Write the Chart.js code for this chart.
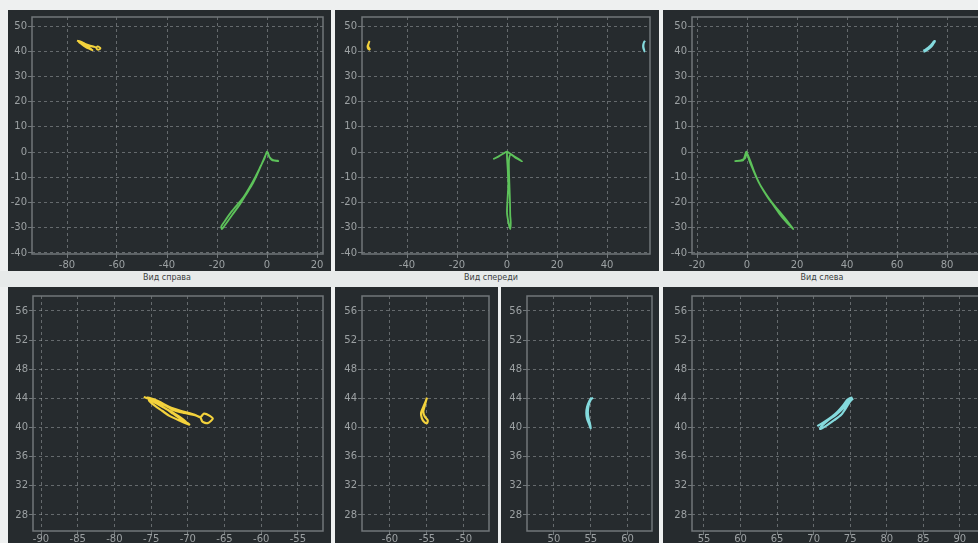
<!DOCTYPE html>
<html>
<head>
<meta charset="utf-8">
<script src="https://cdn.jsdelivr.net/npm/chart.js@4/dist/chart.umd.min.js"></script>
<style>
  html, body { margin: 0; padding: 0; }
  body { width: 978px; height: 543px; overflow: hidden; position: relative; background: #eef0f0; font-family: "DejaVu Sans", sans-serif; }
  .panel { position: absolute; background: #262b2e; overflow: hidden; }
  .strip { position: absolute; left: 0; top: 271px; width: 978px; height: 16px; background: #e7eaea; }
  .caption { position: absolute; top: 273px; font-size: 8px; color: #3c3f41; transform: translateX(-50%); white-space: nowrap; }
</style>
</head>
<body>
<div class="strip"></div>
<div class="caption" style="left:167px">Вид справа</div>
<div class="caption" style="left:491px">Вид спереди</div>
<div class="caption" style="left:822px">Вид слева</div>

<div class="panel" style="left:8px;top:10px;width:323px;height:261px"><canvas id="c1"></canvas></div>
<div class="panel" style="left:335px;top:10px;width:324px;height:261px"><canvas id="c2"></canvas></div>
<div class="panel" style="left:663px;top:10px;width:330px;height:261px"><canvas id="c3"></canvas></div>
<div class="panel" style="left:8px;top:287px;width:323px;height:270px"><canvas id="c4"></canvas></div>
<div class="panel" style="left:335px;top:287px;width:163px;height:270px"><canvas id="c5"></canvas></div>
<div class="panel" style="left:501px;top:287px;width:158px;height:270px"><canvas id="c6"></canvas></div>
<div class="panel" style="left:663px;top:287px;width:330px;height:270px"><canvas id="c7"></canvas></div>

<script>
// Arm trace, side view from the right (horizontal vs vertical)
const rightArmX = [4.8, 3, 1.8, 1, 0.2, -0.5, -2, -4, -6, -8.5, -11, -14, -16.5, -18, -18.3, -17, -14.5, -12, -9.5, -7, -4.5, -2.5, -1, 0, 1, 2.5, 4.5];
const rightArmY = [-3.6, -3.4, -3, -2, 0, -1, -4.5, -9, -13, -17, -21, -25, -28.5, -30.5, -29.5, -27.5, -24, -21, -18, -14, -9.5, -5.5, -2.5, 0.2, -2, -3.2, -3.4];

// Left hand trace, side view from the right
const rightHandX = [-76, -75, -74, -73, -72, -71, -70, -69.8, -71, -72.5, -73.5, -74.5, -75.3, -74.5, -73, -72, -70.5, -69, -68.3, -67.8, -67, -66.6, -67.3, -68, -68.3, -69.5, -71, -72.5, -74, -75.5, -74.6, -73.2, -71.8, -70.6, -70.2];
const rightHandY = [44.2, 43.8, 43.2, 42.6, 41.9, 41.2, 40.6, 40.4, 40.9, 41.6, 42.3, 43, 43.7, 43.6, 43, 42.4, 42, 41.7, 41.4, 41.9, 41.6, 41.2, 40.6, 40.8, 41.4, 41.9, 42.3, 42.8, 43.6, 44.1, 43.5, 42.7, 41.9, 41.1, 40.7];

// Arm trace, front view
const frontArmX = [-5.5, -3, -1, 0, 1.5, 3.5, 6, 3.5, 1.5, 0.8, 0.8, 1, 1.2, 1.3, 1.5, 1.3, 0.6, 0, 0.2, 0.5, 0.3, 0, 0];
const frontArmY = [-2.8, -1.5, -0.3, 0.2, -0.8, -2, -3.6, -2.3, -1, -3, -8, -14, -20, -25, -28, -30.5, -28, -24, -19, -13, -7, -2, 0.2];

// Hand traces, front view
const frontHandAX = [-55, -55.2, -55.5, -55.8, -55.7, -55.4, -55, -54.9, -55.3, -55.5, -55.3, -55.1, -55];
const frontHandAY = [44.1, 43.5, 42.8, 42, 41.3, 40.8, 40.6, 41, 41.5, 42.2, 43, 43.8, 44.1];
const frontHandBX = [55.1, 54.8, 54.5, 54.4, 54.5, 54.8, 55, 54.9, 54.7, 54.6, 54.7, 55, 55.3];
const frontHandBY = [44.1, 43.6, 42.8, 42, 41.2, 40.4, 39.9, 40.5, 41.3, 42.1, 43, 43.8, 44.1];

// Arm trace, side view from the left
const leftArmX = [-5, -3, -1.5, -1, -0.3, 0.3, 1.5, 3, 5, 7.5, 10, 12.5, 15, 17, 18.5, 17.5, 15.5, 13, 10.5, 8, 5.5, 3.5, 2, 0.8, 0, -0.8, -2.5, -4.5];
const leftArmY = [-3.6, -3.5, -3.2, -2, 0.2, -1, -4, -8, -12.5, -16.5, -20, -23, -26, -28.5, -30.5, -29.5, -27.5, -24.5, -21, -17.5, -13.5, -9.5, -6, -3, -0.3, -2.5, -3.3, -3.5];

// Right hand trace, side view from the left
const leftHandX = [70.5, 71.5, 72.5, 73.3, 74, 74.6, 75.2, 74.7, 74, 73, 72, 71, 70.9, 71.8, 72.8, 73.8, 74.5, 75, 75.4];
const leftHandY = [40.2, 40.8, 41.5, 42.2, 43, 43.8, 44.1, 43.5, 42.6, 41.7, 41, 40.1, 39.8, 40.3, 41, 41.8, 42.8, 43.6, 44];

// Axis ticks
const overviewYTicks = [-40, -30, -20, -10, 0, 10, 20, 30, 40, 50];
const detailYTicks = [28, 32, 36, 40, 44, 48, 52, 56];

const GREEN = '#5dc25a';
const YELLOW = '#f3d23c';
const CYAN = '#84dadd';

function pts(xs, ys) { return xs.map((x, i) => ({ x, y: ys[i] })); }

function trace(xs, ys, color, width) {
  return {
    data: pts(xs, ys),
    showLine: true,
    borderColor: color,
    backgroundColor: color,
    borderWidth: width || 1.8,
    pointRadius: 0,
    tension: 0.25,
    fill: false
  };
}

// Outlines the plotting area with a light frame
const framePlugin = {
  id: 'frame',
  beforeDatasetsDraw(chart) {
    const a = chart.chartArea, ctx = chart.ctx;
    ctx.save();
    ctx.strokeStyle = '#71777a';
    ctx.lineWidth = 1.5;
    ctx.strokeRect(a.left, a.top, a.right - a.left, a.bottom - a.top);
    ctx.restore();
  }
};

function makeChart(canvasId, panel, area, xAxis, yAxis, datasets) {
  const tickFont = { family: 'DejaVu Sans', size: 10 };
  const axis = (range, fit) => ({
    type: 'linear',
    min: range.min,
    max: range.max,
    afterFit: fit,
    grid: {
      color: 'rgba(180,185,187,0.45)',
      tickColor: '#71777a',
      tickLength: 4,
      tickBorderDash: [],
      lineWidth: 1
    },
    border: { display: false, dash: [3, 3] },
    ticks: {
      color: '#9ca1a3',
      font: tickFont,
      padding: range.pad !== undefined ? range.pad : 1,
      stepSize: range.step,
      includeBounds: false
    },
    afterBuildTicks: range.values ? (s) => { s.ticks = range.values.map(v => ({ value: v })); } : undefined
  });
  return new Chart(document.getElementById(canvasId), {
    type: 'scatter',
    data: { datasets },
    options: {
      responsive: true,
      maintainAspectRatio: false,
      animation: false,
      layout: {
        padding: {
          left: 0,
          top: area.t - panel.top,
          right: panel.left + panel.width - area.r,
          bottom: 0
        }
      },
      plugins: { legend: { display: false }, tooltip: { enabled: false } },
      scales: {
        x: axis(xAxis, (s) => { s.height = panel.top + panel.height - area.b; }),
        y: axis(yAxis, (s) => { s.width = area.l - panel.left; })
      }
    },
    plugins: [framePlugin]
  });
}

const overviewY = { min: -40.4, max: 53.57, step: 10, values: overviewYTicks };
const detailY = { min: 25.8, max: 58.05, step: 4, values: detailYTicks };

// Top row: overview projections
makeChart('c1', { left: 8, top: 10, width: 323, height: 261 }, { l: 32, t: 17, r: 323, b: 254 },
  { min: -94, max: 22.4, step: 20 }, overviewY,
  [trace(rightArmX, rightArmY, GREEN), trace(rightHandX, rightHandY, YELLOW)]);

makeChart('c2', { left: 335, top: 10, width: 324, height: 261 }, { l: 362, t: 17, r: 650, b: 254 },
  { min: -58, max: 57.2, step: 20 }, overviewY,
  [trace(frontArmX, frontArmY, GREEN), trace(frontHandAX, frontHandAY, YELLOW), trace(frontHandBX, frontHandBY, CYAN)]);

makeChart('c3', { left: 663, top: 10, width: 330, height: 261 }, { l: 692, t: 17, r: 985, b: 254 },
  { min: -22, max: 95.2, step: 20 }, overviewY,
  [trace(leftArmX, leftArmY, GREEN), trace(leftHandX, leftHandY, CYAN)]);

// Bottom row: close-ups of the hands
makeChart('c4', { left: 8, top: 287, width: 323, height: 270 }, { l: 33, t: 296, r: 323, b: 531 },
  { min: -91.09, max: -51.58, step: 5, pad: -2 }, detailY,
  [trace(rightHandX, rightHandY, YELLOW, 2.2)]);

makeChart('c5', { left: 335, top: 287, width: 163, height: 270 }, { l: 362, t: 296, r: 489, b: 531 },
  { min: -63.78, max: -46.62, step: 5, pad: -2 }, detailY,
  [trace(frontHandAX, frontHandAY, YELLOW, 2.2)]);

makeChart('c6', { left: 501, top: 287, width: 158, height: 270 }, { l: 527, t: 296, r: 652, b: 531 },
  { min: 46.33, max: 63.33, step: 5, pad: -2 }, detailY,
  [trace(frontHandBX, frontHandBY, CYAN, 2.2)]);

makeChart('c7', { left: 663, top: 287, width: 330, height: 270 }, { l: 692, t: 296, r: 985, b: 531 },
  { min: 53.36, max: 93.44, step: 5, pad: -2 }, detailY,
  [trace(leftHandX, leftHandY, CYAN, 2.2)]);
</script>
</body>
</html>
